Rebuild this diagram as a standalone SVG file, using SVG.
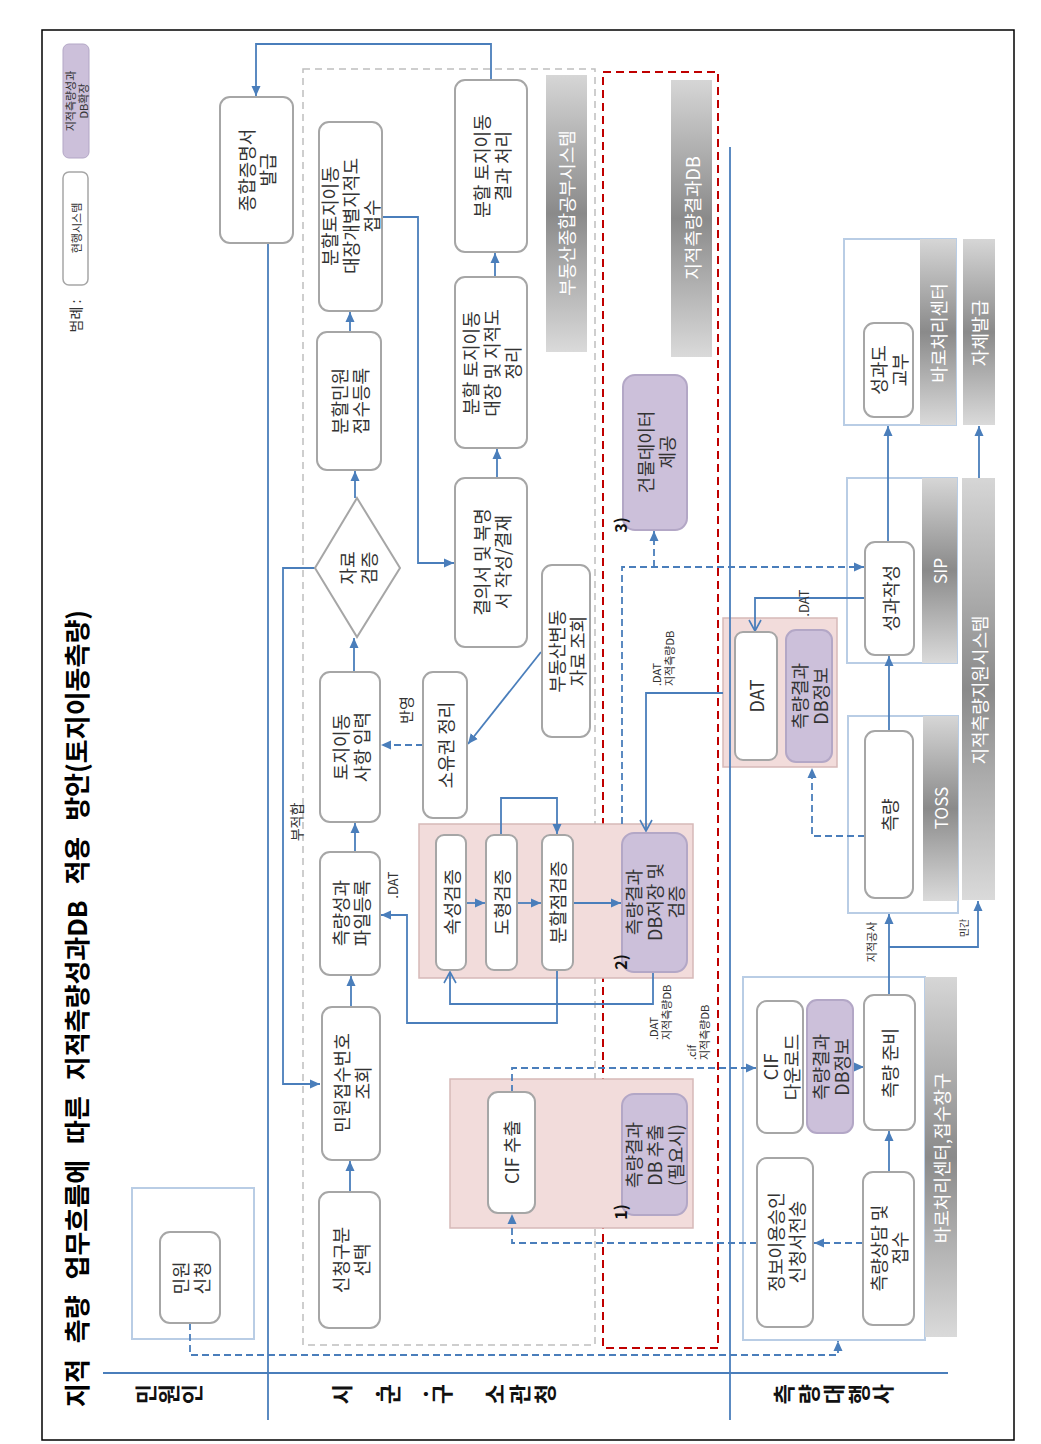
<svg xmlns="http://www.w3.org/2000/svg" width="1041" height="1444" viewBox="0 0 1041 1444">
<defs>
<linearGradient id="gbar" x1="0" y1="0" x2="0" y2="1"><stop offset="0" stop-color="#d6d6d6"/><stop offset="0.5" stop-color="#8a8a8a"/><stop offset="1" stop-color="#dadada"/></linearGradient>
<marker id="af" markerUnits="userSpaceOnUse" markerWidth="11" markerHeight="10" refX="10" refY="5" orient="auto"><path d="M0,0.5 L10,5 L0,9.5 z" fill="#4a7ebb"/></marker>
<marker id="ao" markerUnits="userSpaceOnUse" markerWidth="14" markerHeight="14" refX="12" refY="7" orient="auto"><path d="M1,1 L12,7 L1,13" fill="none" stroke="#4a7ebb" stroke-width="1.6"/></marker>
<style>
text{font-family:"Noto Sans CJK KR","Noto Sans",sans-serif}
.t{font-size:18px;text-anchor:middle;dominant-baseline:central;fill:#333}
.w{fill:#fff}
.s{font-size:11px;text-anchor:start;dominant-baseline:central;fill:#333}
.m{font-size:13px;text-anchor:middle;dominant-baseline:central;fill:#333}
.b{font-weight:bold;fill:#111}
.lane{font-size:22px;font-weight:bold;text-anchor:middle;dominant-baseline:central;fill:#111}
.box{fill:#fff;stroke:#a6a6a6;stroke-width:2}
.pu{fill:#ccc0da;stroke:#b3a7c6;stroke-width:2}
.pk{fill:#f2dcdb;stroke:#d6b9b8;stroke-width:1.5}
.area{fill:none;stroke:#b9cde5;stroke-width:2}
.bar{fill:url(#gbar)}
.c{fill:none;stroke:#4a7ebb;stroke-width:1.8}
.d{stroke-dasharray:7 4}
</style>
</defs>
<rect x="0" y="0" width="1041" height="1444" fill="#fff"/>
<rect x="42" y="30" width="972" height="1410" fill="none" stroke="#000" stroke-width="1.5"/>

<!-- title -->
<text transform="translate(75,1407) rotate(-90)" style="font-size:26px;font-weight:bold;word-spacing:10px;fill:#000;dominant-baseline:central">지적 측량 업무흐름에 따른 지적측량성과DB 적용 방안(토지이동측량)</text>

<!-- legend -->
<g id="legend">
<text class="t" transform="translate(75,316) rotate(-90)" style="font-size:14px">범례 :</text>
<rect x="63" y="172" width="25" height="113" rx="6" class="box" style="stroke-width:1.5"/>
<text class="t" transform="translate(75.5,228) rotate(-90)" style="font-size:11px">현행시스템</text>
<rect x="63" y="44" width="26" height="114" rx="6" class="pu" style="stroke-width:1"/>
<text class="t" transform="translate(76,101) rotate(-90)" style="font-size:11px"><tspan x="0" y="-6">지적측량성과</tspan><tspan x="0" y="6.5">DB확장</tspan></text>
</g>

<!-- areas -->
<g id="areas">
<rect x="303" y="69" width="292" height="1276" fill="none" stroke="#bfbfbf" stroke-width="1.5" stroke-dasharray="7 5"/>
<rect x="603" y="72" width="115" height="1276" fill="none" stroke="#c00000" stroke-width="2" stroke-dasharray="8 5"/>
<rect x="132" y="1188" width="122" height="151" class="area"/>
<rect x="847" y="478" width="110" height="185" class="area"/>
<rect x="848" y="716" width="110" height="197" class="area"/>
<rect x="844" y="239" width="112" height="186" class="area"/>
<rect x="743" y="977" width="182" height="363" class="area"/>
<rect x="419" y="824" width="274" height="154" class="pk"/>
<rect x="450" y="1079" width="243" height="149" class="pk"/>
<rect x="723" y="618" width="114" height="149" class="pk"/>
</g>

<!-- gray bars -->
<g id="bar-budongsan"><rect x="546" y="75" width="41" height="277" class="bar"/><text class="t w" transform="translate(566,213) rotate(-90)">부동산종합공부시스템</text></g>
<g id="bar-jijeokdb"><rect x="671" y="80" width="41" height="277" class="bar"/><text class="t w" transform="translate(692,218) rotate(-90)">지적측량결과DB</text></g>
<g id="bar-sip"><rect x="922" y="478" width="35" height="185" class="bar"/><text class="t w" transform="translate(939,571) rotate(-90)" style="font-size:17px">SIP</text></g>
<g id="bar-toss"><rect x="923" y="716" width="35" height="185" class="bar"/><text class="t w" transform="translate(940,808) rotate(-90)" style="font-size:17px">TOSS</text></g>
<g id="bar-baro"><rect x="920" y="239" width="36" height="186" class="bar"/><text class="t w" transform="translate(938,333) rotate(-90)">바로처리센터</text></g>
<g id="bar-jache"><rect x="963" y="239" width="32" height="186" class="bar"/><text class="t w" transform="translate(979,333) rotate(-90)">자체발급</text></g>
<g id="bar-jiwon"><rect x="962" y="478" width="33" height="422" class="bar"/><text class="t w" transform="translate(979,690) rotate(-90)">지적측량지원시스템</text></g>
<g id="bar-jeopsu"><rect x="925" y="977" width="32" height="360" class="bar"/><text class="t w" transform="translate(941,1158) rotate(-90)">바로처리센터,접수창구</text></g>

<!-- connectors -->
<g id="connectors">
<path class="c" d="M268,243 V1420"/>
<path class="c" d="M730,147 V1420"/>
<path class="c" d="M103,1373 H948"/>
<path class="c" d="M491,80 V44 H256 V96" marker-end="url(#af)"/>
<path class="c" d="M350,332 V312" marker-end="url(#af)"/>
<path class="c" d="M382,217 H418 V563 H454" marker-end="url(#af)"/>
<path class="c" d="M355,498 V471" marker-end="url(#af)"/>
<path class="c" d="M315,568 H283 V1084 H320" marker-end="url(#af)"/>
<path class="c" d="M354,672 V638" marker-end="url(#af)"/>
<path class="c" d="M355,852 V823" marker-end="url(#af)"/>
<path class="c" d="M351,1007 V976" marker-end="url(#af)"/>
<path class="c" d="M350,1192 V1161" marker-end="url(#af)"/>
<path class="c d" d="M423,745 H381" marker-end="url(#af)"/>
<path class="c" d="M541,652 L468,744" marker-end="url(#af)"/>
<path class="c" d="M497,478 V449" marker-end="url(#af)"/>
<path class="c" d="M495,277 V253" marker-end="url(#af)"/>
<path class="c" d="M466,903 H485" marker-end="url(#af)"/>
<path class="c" d="M517,903 H541" marker-end="url(#af)"/>
<path class="c" d="M573,903 H621" marker-end="url(#af)"/>
<path class="c" d="M501,835 V798 H557 V834" marker-end="url(#af)"/>
<path class="c" d="M653,972 V1004 H450 V972" marker-end="url(#ao)"/>
<path class="c" d="M557,970 V1023 H407 V915 H381" marker-end="url(#af)"/>
<path class="c" d="M723,693 H646 V831" marker-end="url(#ao)"/>
<path class="c" d="M865,598 H755 V631" marker-end="url(#ao)"/>
<path class="c d" d="M865,836 H812 V768" marker-end="url(#af)"/>
<path class="c d" d="M622,824 V567 H864" marker-end="url(#af)"/>
<path class="c d" d="M654,567 V531" marker-end="url(#af)"/>
<path class="c" d="M889,731 V656" marker-end="url(#af)"/>
<path class="c" d="M888,542 V426" marker-end="url(#af)"/>
<path class="c" d="M979,478 V426" marker-end="url(#af)"/>
<path class="c" d="M889,995 V914" marker-end="url(#af)"/>
<path class="c" d="M889,947 H978 V901" marker-end="url(#af)"/>
<path class="c" d="M889,1172 V1131" marker-end="url(#af)"/>
<path class="c" d="M853,1067 H864" marker-end="url(#af)"/>
<path class="c d" d="M863,1243 H814" marker-end="url(#af)"/>
<path class="c d" d="M757,1243 H512 V1214" marker-end="url(#af)"/>
<path class="c d" d="M512,1092 V1068 H756" marker-end="url(#af)"/>
<path class="c d" d="M190,1323 V1355 H838 V1341" marker-end="url(#af)"/>
<text class="m" transform="translate(296,822) rotate(-90)" style="font-size:14px">부적합</text>
<text class="m" transform="translate(405,710) rotate(-90)" style="font-size:15px">반영</text>
<text class="m" transform="translate(392,885) rotate(-90)">.DAT</text>
<text class="m" transform="translate(803,603) rotate(-90)">.DAT</text>
<text class="m" transform="translate(903,766) rotate(-90)">.GDB</text>
<text class="s" transform="translate(662,686) rotate(-90)"><tspan x="0" y="-6">.DAT</tspan><tspan x="0" y="7">지적측량DB</tspan></text>
<text class="s" transform="translate(659,1040) rotate(-90)"><tspan x="0" y="-6">.DAT</tspan><tspan x="0" y="7">지적측량DB</tspan></text>
<text class="s" transform="translate(697,1060) rotate(-90)"><tspan x="0" y="-6">.cif</tspan><tspan x="0" y="7">지적측량DB</tspan></text>
<text class="m" transform="translate(871,942) rotate(-90)" style="font-size:11px">지적공사</text>
<text class="m" transform="translate(963,928) rotate(-90)" style="font-size:10px">민간</text>
</g>

<!-- nodes -->
<g id="n-jonghap"><rect x="220" y="97" width="73" height="146" rx="10" class="box"/><text class="t" transform="translate(256,170) rotate(-90)"><tspan x="0" y="-10.5">종합증명서</tspan><tspan x="0" y="10.5">발급</tspan></text></g>
<g id="n-bunhal-jeopsu"><rect x="319" y="122" width="63" height="189" rx="10" class="box"/><text class="t" transform="translate(350,216) rotate(-90)"><tspan x="0" y="-21">분할토지이동</tspan><tspan x="0" y="0">대장개별지적도</tspan><tspan x="0" y="21">접수</tspan></text></g>
<g id="n-bunhal-minwon"><rect x="317" y="332" width="64" height="138" rx="10" class="box"/><text class="t" transform="translate(349,401) rotate(-90)"><tspan x="0" y="-10.5">분할민원</tspan><tspan x="0" y="10.5">접수등록</tspan></text></g>
<g id="n-geomjeung"><path d="M357,498 L400,568 L357,637 L315,568 z" fill="#fff" stroke="#a6a6a6" stroke-width="2"/><text class="t" transform="translate(357,568) rotate(-90)"><tspan x="0" y="-10.5">자료</tspan><tspan x="0" y="10.5">검증</tspan></text></g>
<g id="n-toji-ipryeok"><rect x="320" y="672" width="60" height="150" rx="10" class="box"/><text class="t" transform="translate(350,747) rotate(-90)"><tspan x="0" y="-10.5">토지이동</tspan><tspan x="0" y="10.5">사항 입력</tspan></text></g>
<g id="n-soyugwon"><rect x="423" y="672" width="44" height="146" rx="10" class="box"/><text class="t" transform="translate(445,745) rotate(-90)">소유권 정리</text></g>
<g id="n-budongsan"><rect x="542" y="565" width="48" height="172" rx="10" class="box"/><text class="t" transform="translate(566,651) rotate(-90)"><tspan x="0" y="-10.5">부동산변동</tspan><tspan x="0" y="10.5">자료 조회</tspan></text></g>
<g id="n-gyeolui"><rect x="455" y="478" width="72" height="169" rx="10" class="box"/><text class="t" transform="translate(491,562) rotate(-90)"><tspan x="0" y="-10.5">결의서 및 복명</tspan><tspan x="0" y="10.5">서 작성/결재</tspan></text></g>
<g id="n-daejang"><rect x="455" y="277" width="72" height="171" rx="10" class="box"/><text class="t" transform="translate(491,363) rotate(-90)"><tspan x="0" y="-21">분할 토지이동</tspan><tspan x="0" y="0">대장 및 지적도</tspan><tspan x="0" y="21">정리</tspan></text></g>
<g id="n-gyeolgwa"><rect x="455" y="80" width="72" height="172" rx="10" class="box"/><text class="t" transform="translate(491,166) rotate(-90)"><tspan x="0" y="-10.5">분할 토지이동</tspan><tspan x="0" y="10.5">결과 처리</tspan></text></g>
<g id="n-seonggwa-file"><rect x="320" y="852" width="60" height="123" rx="10" class="box"/><text class="t" transform="translate(350,913) rotate(-90)"><tspan x="0" y="-10.5">측량성과</tspan><tspan x="0" y="10.5">파일등록</tspan></text></g>
<g id="n-minwon-jeopsu"><rect x="322" y="1007" width="58" height="153" rx="10" class="box"/><text class="t" transform="translate(351,1083) rotate(-90)"><tspan x="0" y="-10.5">민원접수번호</tspan><tspan x="0" y="10.5">조회</tspan></text></g>
<g id="n-singcheong"><rect x="319" y="1192" width="61" height="136" rx="10" class="box"/><text class="t" transform="translate(350,1260) rotate(-90)"><tspan x="0" y="-10.5">신청구분</tspan><tspan x="0" y="10.5">선택</tspan></text></g>
<g id="n-minwon-sincheong"><rect x="160" y="1232" width="60" height="91" rx="10" class="box"/><text class="t" transform="translate(190,1278) rotate(-90)"><tspan x="0" y="-10.5">민원</tspan><tspan x="0" y="10.5">신청</tspan></text></g>
<g id="n-sokseong"><rect x="436" y="835" width="30" height="135" rx="8" class="box"/><text class="t" transform="translate(451,902) rotate(-90)">속성검증</text></g>
<g id="n-dohyeong"><rect x="486" y="835" width="31" height="135" rx="8" class="box"/><text class="t" transform="translate(501,902) rotate(-90)">도형검증</text></g>
<g id="n-bunhaljeom"><rect x="542" y="835" width="31" height="135" rx="8" class="box"/><text class="t" transform="translate(557,902) rotate(-90)">분할점검증</text></g>
<g id="n-db-jeojang"><rect x="622" y="833" width="65" height="139" rx="12" class="pu"/><text class="t" transform="translate(654,902) rotate(-90)"><tspan x="0" y="-21">측량결과</tspan><tspan x="0" y="0">DB저장 및</tspan><tspan x="0" y="21">검증</tspan></text></g>
<g id="n-geonmul"><rect x="623" y="375" width="64" height="155" rx="12" class="pu"/><text class="t" transform="translate(655,452) rotate(-90)"><tspan x="0" y="-10.5">건물데이터</tspan><tspan x="0" y="10.5">제공</tspan></text></g>
<g id="n-cif-chuchul"><rect x="488" y="1092" width="47" height="121" rx="10" class="box"/><text class="t" transform="translate(511,1152) rotate(-90)">CIF 추출</text></g>
<g id="n-db-chuchul"><rect x="622" y="1094" width="65" height="121" rx="12" class="pu"/><text class="t" transform="translate(654,1155) rotate(-90)"><tspan x="0" y="-21">측량결과</tspan><tspan x="0" y="0">DB 추출</tspan><tspan x="0" y="21">(필요시)</tspan></text></g>
<g id="n-dat"><rect x="735" y="632" width="42" height="128" rx="8" class="box"/><text class="t" transform="translate(756,696) rotate(-90)">DAT</text></g>
<g id="n-dat-db"><rect x="786" y="630" width="46" height="132" rx="10" class="pu"/><text class="t" transform="translate(809,696) rotate(-90)"><tspan x="0" y="-10.5">측량결과</tspan><tspan x="0" y="10.5">DB정보</tspan></text></g>
<g id="n-seonggwa-jakseong"><rect x="865" y="542" width="49" height="113" rx="10" class="box"/><text class="t" transform="translate(890,598) rotate(-90)">성과작성</text></g>
<g id="n-cheukryang"><rect x="865" y="731" width="48" height="167" rx="10" class="box"/><text class="t" transform="translate(889,815) rotate(-90)">측량</text></g>
<g id="n-seonggwado"><rect x="864" y="323" width="49" height="94" rx="10" class="box"/><text class="t" transform="translate(888,370) rotate(-90)"><tspan x="0" y="-10.5">성과도</tspan><tspan x="0" y="10.5">교부</tspan></text></g>
<g id="n-cif-download"><rect x="757" y="1001" width="46" height="132" rx="10" class="box"/><text class="t" transform="translate(780,1067) rotate(-90)"><tspan x="0" y="-10.5">CIF</tspan><tspan x="0" y="10.5">다운로드</tspan></text></g>
<g id="n-db-info"><rect x="807" y="1000" width="46" height="133" rx="10" class="pu"/><text class="t" transform="translate(830,1067) rotate(-90)"><tspan x="0" y="-10.5">측량결과</tspan><tspan x="0" y="10.5">DB정보</tspan></text></g>
<g id="n-junbi"><rect x="864" y="995" width="51" height="135" rx="10" class="box"/><text class="t" transform="translate(889,1063) rotate(-90)">측량 준비</text></g>
<g id="n-jeongbo"><rect x="757" y="1158" width="56" height="169" rx="10" class="box"/><text class="t" transform="translate(785,1242) rotate(-90)"><tspan x="0" y="-10.5">정보이용승인</tspan><tspan x="0" y="10.5">신청서전송</tspan></text></g>
<g id="n-sangdam"><rect x="863" y="1172" width="51" height="153" rx="10" class="box"/><text class="t" transform="translate(888,1248) rotate(-90)"><tspan x="0" y="-10.5">측량상담 및</tspan><tspan x="0" y="10.5">접수</tspan></text></g>

<!-- step numbers -->
<g id="step-labels">
<text class="m b" transform="translate(620,962) rotate(-90)" style="font-size:16px">2)</text>
<text class="m b" transform="translate(620,1212) rotate(-90)" style="font-size:16px">1)</text>
<text class="m b" transform="translate(620,525) rotate(-90)" style="font-size:16px">3)</text>
</g>

<!-- lane labels -->
<g id="lane-labels">
<text class="lane" transform="translate(144,1394) rotate(-90)">민</text>
<text class="lane" transform="translate(167,1394) rotate(-90)">원</text>
<text class="lane" transform="translate(190,1394) rotate(-90)">인</text>
<text class="lane" transform="translate(340,1394) rotate(-90)">시</text>
<text class="lane" transform="translate(370,1394) rotate(-90)">.</text>
<text class="lane" transform="translate(388,1394) rotate(-90)">군</text>
<text class="lane" transform="translate(418,1394) rotate(-90)">.</text>
<text class="lane" transform="translate(440,1394) rotate(-90)">구</text>
<text class="lane" transform="translate(493,1394) rotate(-90)">소</text>
<text class="lane" transform="translate(518,1394) rotate(-90)">관</text>
<text class="lane" transform="translate(543,1394) rotate(-90)">청</text>
<text class="lane" transform="translate(782,1394) rotate(-90)">측</text>
<text class="lane" transform="translate(807,1394) rotate(-90)">량</text>
<text class="lane" transform="translate(832,1394) rotate(-90)">대</text>
<text class="lane" transform="translate(857,1394) rotate(-90)">행</text>
<text class="lane" transform="translate(881,1394) rotate(-90)">사</text>
</g>
</svg>
